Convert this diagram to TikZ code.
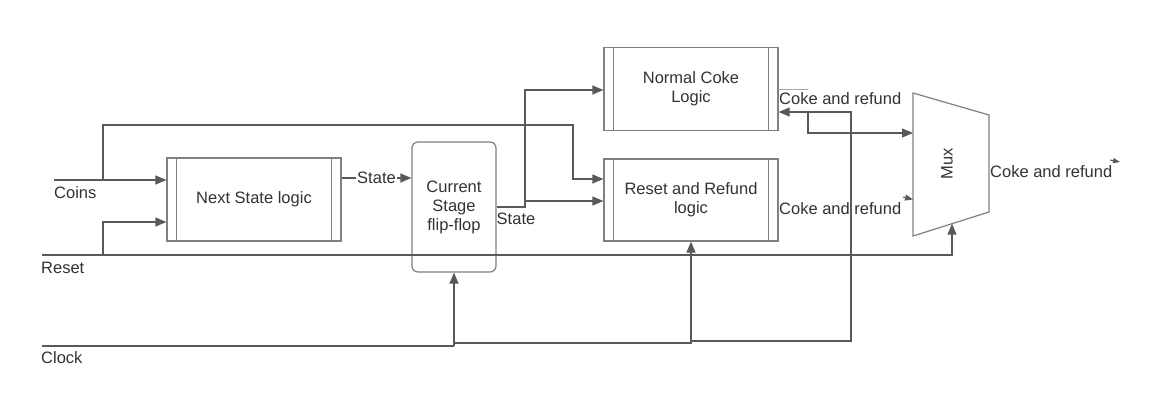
\documentclass[tikz,border=0pt]{standalone}
\usepackage{fontspec}
\setmainfont{Liberation Sans}
\usetikzlibrary{arrows.meta}
\definecolor{txt}{HTML}{333333}
\definecolor{lnc}{HTML}{595959}
\definecolor{boxc}{HTML}{808080}
\newcommand{\fsz}{\fontsize{16.5}{19}\selectfont}
\begin{document}
\begin{tikzpicture}[x=1pt,y=-1pt,
  ln/.style={draw=lnc, line width=1.2pt},
  arr/.style={ln, -{Triangle[length=11pt,width=9pt]}},
  proc/.style={draw=boxc, line width=1.2pt, minimum width=174pt, minimum height=83pt, inner sep=0pt, align=center, font=\fsz, text=txt},
  lbl/.style={font=\fsz, text=txt, inner sep=1pt}
]
\useasboundingbox (0,0) rectangle (1149,415);
\fill[white] (0,0) rectangle (1149,415);

% boxes
\node[proc] (NSL) at (254,199.5) {Next State logic};
\node[proc, minimum width=84pt, minimum height=130pt, rounded corners=6pt] (FF) at (454,207) {Current\\Stage\\flip-flop};
\node[proc] (NCL) at (691,89) {Normal Coke\\Logic};
\node[proc, minimum height=82pt] (RRL) at (691,200) {Reset and Refund\\logic};
\foreach \n in {NSL,NCL,RRL}{
  \draw[boxc, line width=1.2pt] ([xshift=10pt]\n.north west) -- ([xshift=10pt]\n.south west);
  \draw[boxc, line width=1.2pt] ([xshift=-10pt]\n.north east) -- ([xshift=-10pt]\n.south east);
}
% mux
\draw[boxc, line width=1.2pt] (913,93) -- (989,115) -- (989,212) -- (913,236) -- cycle;
\node[lbl, rotate=90] (MUX) at (947,164) {Mux};
\coordinate (muxbot) at (952,223.7);
\coordinate (muxin1) at (913,133);

% labels
\node[lbl, anchor=west] (coins) at (53,193) {Coins};
\node[lbl, anchor=west] (reset) at (40,268) {Reset};
\node[lbl, anchor=west] (clock) at (40,358) {Clock};
\node[lbl, anchor=west] (cr1) at (778,99) {Coke and refund};
\node[lbl, anchor=west] (cr2) at (778,209) {Coke and refund};
\node[lbl, anchor=west] (cr3) at (989,172) {Coke and refund};
\node[lbl] (st2) at (516,219) {State};
\draw[boxc!70, line width=0.8pt] (779,89) -- (808,89);

% coins
\coordinate (cs) at (54,180);
\coordinate (cb) at (103,180);
\draw[arr] (cs) -- (NSL.west |- cs);
\draw[arr] (cb) |- (573,125) |- (RRL.west |- 0,179);

% reset
\coordinate (rs) at (42,255);
\coordinate (rb) at (103,255);
\draw[arr] (rs) -| (muxbot);
\draw[arr] (rb) |- (NSL.west |- 0,222);

% state
\draw[arr] (NSL.east |- 0,178) -- node[lbl, fill=white] (st1) {State} (FF.west |- 0,178);
\coordinate (fo) at (525,207);
\draw[arr] (FF.east |- fo) -- (fo) |- (NCL.west |- 0,90);
\draw[arr] (525,201) -- (RRL.west |- 0,201);

% clock
\coordinate (ck) at (42,346);
\coordinate (ckj) at (454,346);
\draw[ln] (ck) -- (ckj);
\draw[arr] (ckj) -- (FF.south);
\draw[arr] (454,343) -| (RRL.south);
\draw[arr] (691,341) -- (851,341) -- (851,112) -- (NCL.east |- 0,112);
\draw[arr] (808,112) |- (muxin1);

% small tips
\draw[lnc, line width=1pt, -{Triangle[length=8pt,width=6pt]}] (903,197) -- (913,199.5);
\draw[lnc, line width=1pt, -{Triangle[length=7pt,width=5pt]}] (1110,160) -- (1120,162);
\end{tikzpicture}
\end{document}
